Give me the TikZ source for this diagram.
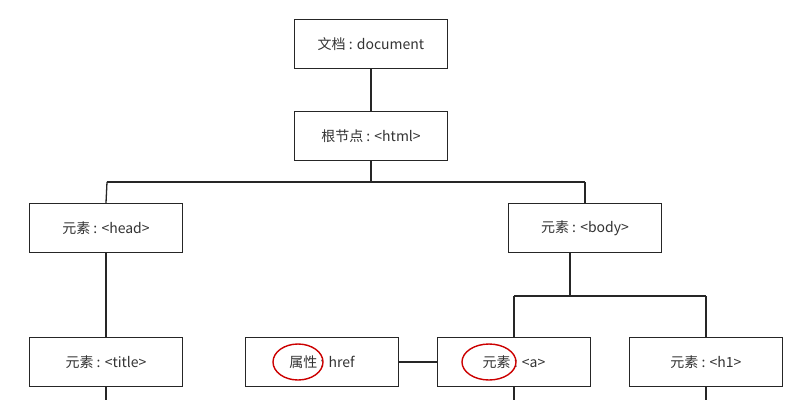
\documentclass[tikz,border=0pt]{standalone}
\usepackage{fontspec}
\setmainfont{Noto Sans CJK SC}
\begin{document}
\begin{tikzpicture}[x=1pt,y=-1pt,line width=1.3pt,draw=black!85,
  box/.style={draw=black!85,minimum width=153pt,minimum height=49pt,inner sep=0pt,font=\fontsize{14}{16}\selectfont,text=black!80}]
\useasboundingbox (0,0) rectangle (807,400);
\fill[white] (0,0) rectangle (807,400);
\node[box] (doc) at (371,44) {文档 : document};
\node[box] (html) at (371,136) {根节点 : <html>};
\node[box] (head) at (106,228) {元素 : <head>};
\node[box] (body) at (585,228) {元素 : <body>};
\node[box] (title) at (106,362) {元素 : <title>};
\node[box] (href) at (322,362) {属性 : href};
\node[box] (a) at (514,362) {元素 : <a>};
\node[box] (h1) at (706,362) {元素 : <h1>};
\coordinate (bl) at (107,182);
\coordinate (br) at (585,182);
\coordinate (cl) at (514,296);
\coordinate (cr) at (706,296);
\coordinate (e1) at (106,400);
\coordinate (e2) at (514,400);
\coordinate (e3) at (706,400);
\draw (doc) -- (html);
\draw (html.south) -- (html.south |- bl) (bl) -- (br);
\draw (bl) -- (head.north);
\draw (br) -- (body.north);
\draw (head) -- (title);
\draw (570,253) coordinate (bd) -- (570,296) coordinate (bm);
\draw (cl) -- (cr);
\draw (cl) -- (a.north);
\draw (cr) -- (h1.north);
\draw (href) -- (a);
\draw (title.south) -- (e1);
\draw (a.south) -- (e2);
\draw (h1.south) -- (e3);
\draw[red!80!black,line width=1.4pt] (298,362) ellipse (25 and 18);
\draw[red!80!black,line width=1.4pt] (489,362) ellipse (27 and 18);
\end{tikzpicture}
\end{document}
